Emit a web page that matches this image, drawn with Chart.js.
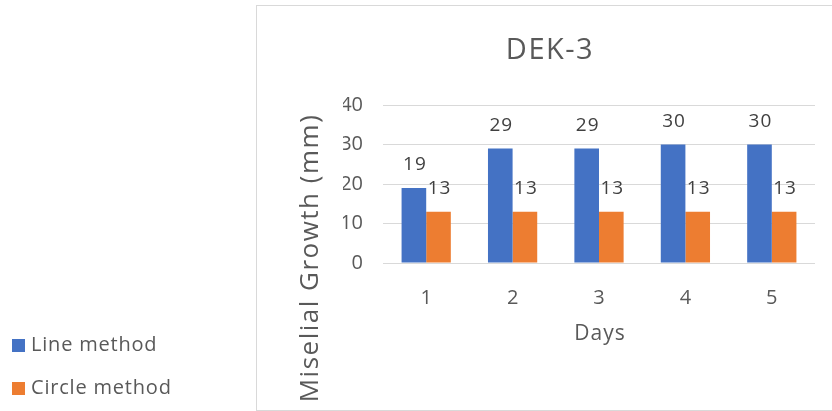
<!DOCTYPE html>
<html>
<head>
<meta charset="utf-8">
<script src="https://cdn.jsdelivr.net/npm/chart.js@4.4.1/dist/chart.umd.min.js"></script>
<style>
  html, body { margin: 0; padding: 0; background: #fff; }
  #wrap { position: relative; width: 832px; height: 411px; }
</style>
</head>
<body>
<div id="wrap"><canvas id="c" width="832" height="411"></canvas></div>
<script>
  // chart data
  const days = ['1', '2', '3', '4', '5'];
  const lineMethod = [19, 29, 29, 30, 30];
  const circleMethod = [13, 13, 13, 13, 13];
  const yTicks = [0, 10, 20, 30, 40];

  const chartTitle = 'DEK-3';
  const xTitle = 'Days';
  const yTitle = 'Miselial Growth (mm)';

  const FONT = '"Open Sans", "Noto Sans", sans-serif';
  const GRAY = '#595959';

  // frame, titles, value labels and the outside legend
  const decor = {
    id: 'decor',
    beforeDraw(chart) {
      const { ctx } = chart;
      ctx.save();
      ctx.strokeStyle = '#d9d9d9';
      ctx.lineWidth = 1;
      ctx.strokeRect(256.5, 5.5, 620, 405);
      ctx.restore();
    },
    afterDatasetsDraw(chart) {
      const { ctx, chartArea: a } = chart;
      ctx.save();
      ctx.fillStyle = GRAY;
      ctx.textAlign = 'center';
      ctx.textBaseline = 'middle';

      ctx.letterSpacing = '1.5px';
      ctx.font = '29px ' + FONT;
      ctx.fillText(chartTitle, 550, 51);

      ctx.letterSpacing = '1px';
      ctx.font = '21px ' + FONT;
      ctx.fillText(xTitle, (a.left + a.right) / 2 + 1, 334);

      ctx.save();
      ctx.translate(311, 258);
      ctx.rotate(-Math.PI / 2);
      ctx.letterSpacing = '1.5px';
      ctx.font = '26px ' + FONT;
      ctx.fillText(yTitle, 0, 0);
      ctx.restore();

      // value labels above each bar
      ctx.letterSpacing = '1px';
      ctx.font = '19px ' + FONT;
      ctx.fillStyle = '#404040';
      chart.data.datasets.forEach((ds, di) => {
        chart.getDatasetMeta(di).data.forEach((bar, i) => {
          ctx.fillText(String(ds.data[i]), bar.x + 1, bar.y - 23);
        });
      });

      // legend outside the frame
      ctx.textAlign = 'left';
      ctx.letterSpacing = '0.8px';
      ctx.font = '20px ' + FONT;
      const rows = [345.5, 388.5];
      chart.data.datasets.forEach((ds, di) => {
        const y = rows[di];
        ctx.fillStyle = ds.backgroundColor;
        ctx.fillRect(12, y - 6.5, 13, 13);
        ctx.fillStyle = GRAY;
        ctx.fillText(ds.label, 31, y);
      });
      ctx.restore();
    }
  };

  new Chart(document.getElementById('c'), {
    type: 'bar',
    data: {
      labels: days,
      datasets: [
        { label: 'Line method', data: lineMethod, backgroundColor: '#4472C4' },
        { label: 'Circle method', data: circleMethod, backgroundColor: '#ED7D31' },
      ],
    },
    options: {
      responsive: false,
      animation: false,
      layout: { padding: { left: 343, right: 17, top: 105, bottom: 98 } },
      datasets: { bar: { categoryPercentage: 0.57, barPercentage: 1 } },
      plugins: { legend: { display: false }, title: { display: false }, tooltip: { enabled: false } },
      scales: {
        x: {
          grid: { display: false },
          border: { display: false },
          ticks: { color: GRAY, font: { family: FONT, size: 20 }, padding: 15 },
          afterFit: (s) => { s.height = 50; },
        },
        y: {
          min: 0, max: 40,
          afterBuildTicks: (s) => { s.ticks = yTicks.map(v => ({ value: v })); },
          grid: { color: '#d9d9d9', drawTicks: false },
          border: { display: false },
          ticks: { color: GRAY, font: { family: FONT, size: 20 }, padding: 20 },
          afterFit: (s) => { s.width = 40; },
        },
      },
    },
    plugins: [decor],
  });
</script>
</body>
</html>
